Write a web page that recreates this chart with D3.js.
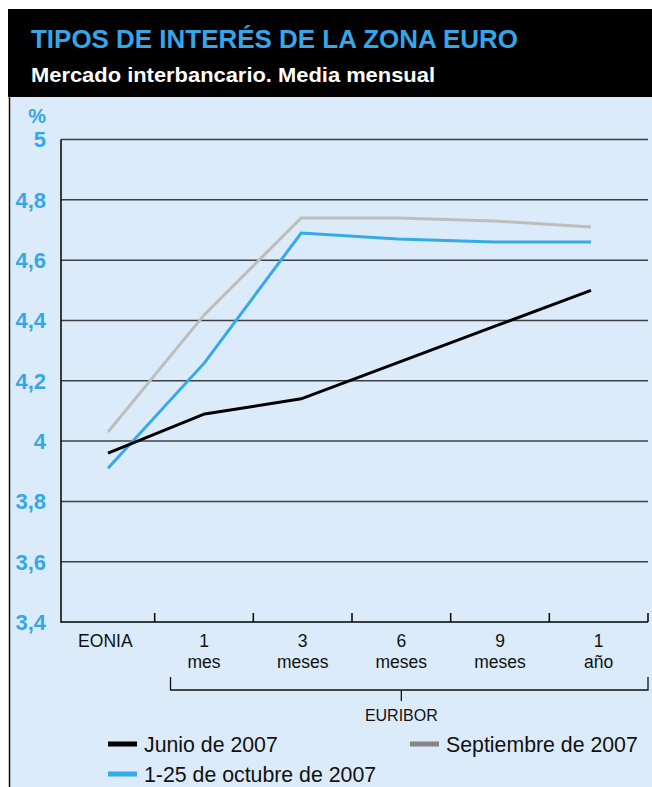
<!DOCTYPE html>
<html>
<head>
<meta charset="utf-8">
<script src="https://cdn.jsdelivr.net/npm/d3@7"></script>
<style>
  html, body { margin: 0; padding: 0; background: #ffffff; }
  svg { display: block; }
</style>
</head>
<body>
<svg id="chart" width="652" height="787"></svg>
<script>
// Eurozone interbank rates, monthly average (%)
const categories = ["EONIA", "1 mes", "3 meses", "6 meses", "9 meses", "1 año"];
const categoryLines = [["EONIA"], ["1", "mes"], ["3", "meses"], ["6", "meses"], ["9", "meses"], ["1", "año"]];
const junio = [3.96, 4.09, 4.14, 4.26, 4.38, 4.50];
const septiembre = [4.03, 4.42, 4.74, 4.74, 4.73, 4.71];
const octubre = [3.91, 4.26, 4.69, 4.67, 4.66, 4.66];
const seriesNames = ["Junio de 2007", "Septiembre de 2007", "1-25 de octubre de 2007"];
const yTicks = [3.4, 3.6, 3.8, 4.0, 4.2, 4.4, 4.6, 4.8, 5.0];
const yTickLabels = ["3,4", "3,6", "3,8", "4", "4,2", "4,4", "4,6", "4,8", "5"];

const svg = d3.select("#chart");
const W = 652, H = 787;
const FONT = "'Liberation Sans', Arial, sans-serif";
const BLUE = "#35a7e8";

// Panel background and header
svg.append("rect").attr("x", 9).attr("y", 97).attr("width", W - 9).attr("height", H - 97).attr("fill", "#dbebf9");
svg.append("line").attr("x1", 9.5).attr("x2", 9.5).attr("y1", 97).attr("y2", H)
  .attr("stroke", "#111").attr("stroke-width", 1.5);
svg.append("rect").attr("x", 8).attr("y", 9).attr("width", W - 8).attr("height", 88).attr("fill", "#000");

svg.append("text").attr("x", 31).attr("y", 47.5)
  .attr("font-family", FONT).attr("font-weight", "bold").attr("font-size", 25)
  .attr("fill", BLUE).attr("textLength", 487).attr("lengthAdjust", "spacingAndGlyphs")
  .text("TIPOS DE INTERÉS DE LA ZONA EURO");
svg.append("text").attr("x", 31).attr("y", 82)
  .attr("font-family", FONT).attr("font-weight", "bold").attr("font-size", 20.5)
  .attr("fill", "#fff").attr("textLength", 404).attr("lengthAdjust", "spacingAndGlyphs")
  .text("Mercado interbancario. Media mensual");

// Scales
const plotLeft = 61, plotRight = 648, plotTop = 139.5, plotBottom = 622;
const y = d3.scaleLinear().domain([3.4, 5.0]).range([plotBottom, plotTop]);
const xBand = d3.scaleBand().domain(categories).range([56, plotRight]);
const xLine = d3.scalePoint().domain(categories).range([108, 591]);

// Horizontal gridlines
svg.append("g").selectAll("line")
  .data(yTicks.filter(t => t > 3.4))
  .join("line")
  .attr("x1", plotLeft).attr("x2", plotRight)
  .attr("y1", d => y(d)).attr("y2", d => y(d))
  .attr("stroke", "#3b4047").attr("stroke-width", 1.5);

// Y tick labels
svg.append("g").selectAll("text")
  .data(yTicks)
  .join("text")
  .attr("x", 46).attr("y", d => y(d))
  .attr("dy", "0.36em")
  .attr("text-anchor", "end")
  .attr("font-family", FONT).attr("font-weight", "bold").attr("font-size", 22)
  .attr("fill", BLUE)
  .text((d, i) => yTickLabels[i]);
svg.append("text").attr("x", 46).attr("y", 123)
  .attr("text-anchor", "end")
  .attr("font-family", FONT).attr("font-weight", "bold").attr("font-size", 20)
  .attr("fill", BLUE).text("%");

// Axis frame
svg.append("line").attr("x1", plotLeft).attr("x2", plotLeft).attr("y1", plotTop).attr("y2", plotBottom + 0.75)
  .attr("stroke", "#000").attr("stroke-width", 1.5);
svg.append("line").attr("x1", plotLeft).attr("x2", plotRight).attr("y1", plotBottom).attr("y2", plotBottom)
  .attr("stroke", "#000").attr("stroke-width", 1.5);
const edges = categories.slice(1).map(c => xBand(c)).concat([plotRight]);
svg.append("g").selectAll("line")
  .data(edges)
  .join("line")
  .attr("x1", d => d).attr("x2", d => d)
  .attr("y1", plotBottom - 9).attr("y2", plotBottom)
  .attr("stroke", "#000").attr("stroke-width", 1.5);

// Category labels
const catG = svg.append("g").selectAll("text")
  .data(categories)
  .join("text")
  .attr("x", d => xBand(d) + xBand.bandwidth() / 2)
  .attr("y", 647)
  .attr("text-anchor", "middle")
  .attr("font-family", FONT).attr("font-size", 17.5)
  .attr("fill", "#111");
catG.each(function (d, i) {
  const lines = categoryLines[i];
  d3.select(this).selectAll("tspan")
    .data(lines)
    .join("tspan")
    .attr("x", xBand(d) + xBand.bandwidth() / 2)
    .attr("dy", (l, j) => j === 0 ? 0 : 21)
    .text(l => l);
});

// EURIBOR bracket under the five Euribor maturities
const brLeft = 170.5, brRight = plotRight, brY = 690;
svg.append("path")
  .attr("d", `M${brLeft},677V${brY}H${brRight}V677`)
  .attr("fill", "none").attr("stroke", "#111").attr("stroke-width", 1.3);
const brMid = (xBand("1 mes") + xBand.bandwidth() / 2 + xBand("1 año") + xBand.bandwidth() / 2) / 2;
svg.append("line").attr("x1", brMid).attr("x2", brMid).attr("y1", brY).attr("y2", brY + 11)
  .attr("stroke", "#111").attr("stroke-width", 1.3);
svg.append("text").attr("x", brMid).attr("y", 721)
  .attr("text-anchor", "middle")
  .attr("font-family", FONT).attr("font-size", 16).attr("fill", "#111")
  .text("EURIBOR");

// Series lines
const series = [
  { name: seriesNames[1], values: septiembre, color: "#bdbdbd" },
  { name: seriesNames[2], values: octubre, color: "#36a9e9" },
  { name: seriesNames[0], values: junio, color: "#000000" }
];
const line = d3.line()
  .x((d, i) => xLine(categories[i]))
  .y(d => y(d));
svg.append("g").selectAll("path")
  .data(series)
  .join("path")
  .attr("d", s => line(s.values))
  .attr("fill", "none")
  .attr("stroke", s => s.color)
  .attr("stroke-width", 3);

// Legend
const legendItems = [
  { name: seriesNames[0], color: "#000000", x: 108, y: 744 },
  { name: seriesNames[1], color: "#858585", x: 410, y: 744 },
  { name: seriesNames[2], color: "#36a9e9", x: 108, y: 774 }
];
const lg = svg.append("g").selectAll("g")
  .data(legendItems)
  .join("g")
  .attr("transform", d => `translate(${d.x},${d.y})`);
lg.append("rect").attr("x", 0).attr("y", -2.5).attr("width", 29).attr("height", 5)
  .attr("fill", d => d.color);
lg.append("text").attr("x", 36).attr("y", 0).attr("dy", "0.36em")
  .attr("font-family", FONT).attr("font-size", 21.3).attr("fill", "#111")
  .text(d => d.name);
</script>
</body>
</html>
